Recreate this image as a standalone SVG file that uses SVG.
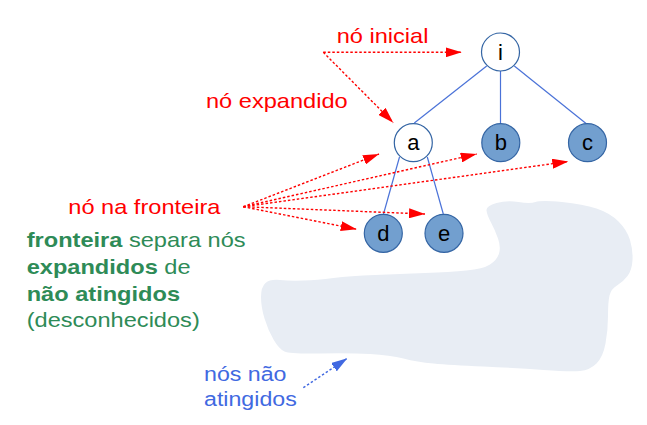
<svg xmlns="http://www.w3.org/2000/svg" width="647" height="425" viewBox="0 0 647 425">
<style>
.t{font-family:"Liberation Sans",Arial,sans-serif;font-size:20px}
.red{fill:#ff0000}
.grn{fill:#2e8b57}
.blu{fill:#4169e1}
.lbl{font-family:"Liberation Sans",Arial,sans-serif;font-size:22px;fill:#000;text-anchor:middle}
.open{fill:#ffffff;stroke:#3465a4;stroke-width:1.2}
.fill{fill:#729fcf;stroke:#3465a4;stroke-width:1.2}
.edge{stroke:#4a72d8;stroke-width:1.2;fill:none}
.rarr{stroke:#ff0000;stroke-width:1.4;stroke-dasharray:2.5 2;fill:none;marker-end:url(#ra)}
.barr{stroke:#4169e1;stroke-width:1.4;stroke-dasharray:2.5 2;fill:none;marker-end:url(#ba)}
</style>
<defs>
<marker id="ra" markerUnits="userSpaceOnUse" markerWidth="16" markerHeight="10" refX="16" refY="5" orient="auto" viewBox="0 0 16 10"><path d="M0,0 L16,5 L0,10 Z" fill="#ff0000"/></marker>
<marker id="ba" markerUnits="userSpaceOnUse" markerWidth="16" markerHeight="10" refX="16" refY="5" orient="auto" viewBox="0 0 16 10"><path d="M0,0 L16,5 L0,10 Z" fill="#4169e1"/></marker>
</defs>
<rect width="647" height="425" fill="#ffffff"/>
<g id="cloud">
<path fill="#e8edf4" d="M486.5,210.5 Q486,206 496.5,203 Q507,200 518.5,202 Q530,204 535.5,202 Q541,200 562,202 Q583,204 596.5,208.5 Q610,213 618.5,221.5 Q627,230 630,240 Q633,250 632.5,260 Q632,270 627.5,276 Q623,282 617,285.5 Q611,289 609.5,295.5 Q608,302 608,316 Q608,330 605.5,343.5 Q603,357 596.5,363.5 Q590,370 580,371 Q570,372 543.5,370 Q517,368 483.5,366.5 Q450,365 433.5,363.5 Q417,362 403.5,358.5 Q390,355 370,354 Q350,353 320,353.5 Q290,354 284.5,351.5 Q279,349 273.5,339.5 Q268,330 264.5,318.5 Q261,307 261,297 Q261,287 265.5,283 Q270,279 280,280 Q290,281 303.5,280.5 Q317,280 333.5,278 Q350,276 375,275 Q400,274 425,273 Q450,272 466.5,270.5 Q483,269 490,264.5 Q497,260 499,253.5 Q501,247 498,238.5 Q495,230 491,222.5 Q487,215 486.5,210.5 Z"/>
</g>
<g id="connectors">
<line class="edge" x1="486.7" y1="66" x2="414.3" y2="123"/>
<line class="edge" x1="500.5" y1="71" x2="500.5" y2="124"/>
<line class="edge" x1="514.3" y1="66" x2="586.7" y2="124"/>
<line class="edge" x1="399.5" y1="157" x2="383.5" y2="214"/>
<line class="edge" x1="427.3" y1="157" x2="443.3" y2="214"/>
<line class="rarr" x1="323.3" y1="52.3" x2="461.7" y2="52.3"/>
<line class="rarr" x1="323.3" y1="52.3" x2="393.3" y2="122.7"/>
<line class="rarr" x1="243.3" y1="206.7" x2="379" y2="154"/>
<line class="rarr" x1="243.3" y1="206.7" x2="476.7" y2="154"/>
<line class="rarr" x1="243.3" y1="206.7" x2="568.3" y2="161.5"/>
<line class="rarr" x1="243.3" y1="206.7" x2="425" y2="214"/>
<line class="rarr" x1="243.3" y1="206.7" x2="356.7" y2="229.3"/>
<line class="barr" x1="303.3" y1="387.7" x2="347.3" y2="358.3"/>
</g>
<g id="node-i"><circle class="open" cx="500.5" cy="52" r="19"/><text class="lbl" x="500.5" y="59.7">i</text></g>
<g id="node-a"><circle class="open" cx="413.3" cy="142.7" r="19"/><text class="lbl" x="413.3" y="150.4">a</text></g>
<g id="node-b"><circle class="fill" cx="500.8" cy="142.7" r="19"/><text class="lbl" x="500.8" y="150.4">b</text></g>
<g id="node-c"><circle class="fill" cx="587.5" cy="142.7" r="19"/><text class="lbl" x="587.5" y="150.4">c</text></g>
<g id="node-d"><circle class="fill" cx="383.3" cy="233.3" r="19"/><text class="lbl" x="383.3" y="241">d</text></g>
<g id="node-e"><circle class="fill" cx="444" cy="233.3" r="19"/><text class="lbl" x="444" y="241">e</text></g>
<g id="labels">
<text class="t red" transform="translate(336.7,42.7) scale(1.18,1)">nó inicial</text>
<text class="t red" transform="translate(206,107.5) scale(1.18,1)">nó expandido</text>
<text class="t red" transform="translate(68.3,214) scale(1.18,1)">nó na fronteira</text>
<text class="t grn" transform="translate(26.7,247.3) scale(1.18,1)"><tspan font-weight="bold">fronteira</tspan> separa nós</text>
<text class="t grn" transform="translate(26.7,274) scale(1.18,1)"><tspan font-weight="bold">expandidos</tspan> de</text>
<text class="t grn" transform="translate(26.7,300.5) scale(1.18,1)"><tspan font-weight="bold">não atingidos</tspan></text>
<text class="t grn" transform="translate(26.7,327) scale(1.18,1)">(desconhecidos)</text>
<text class="t blu" transform="translate(204,381) scale(1.16,1)">nós não</text>
<text class="t blu" transform="translate(204,406) scale(1.16,1)">atingidos</text>
</g>
</svg>
